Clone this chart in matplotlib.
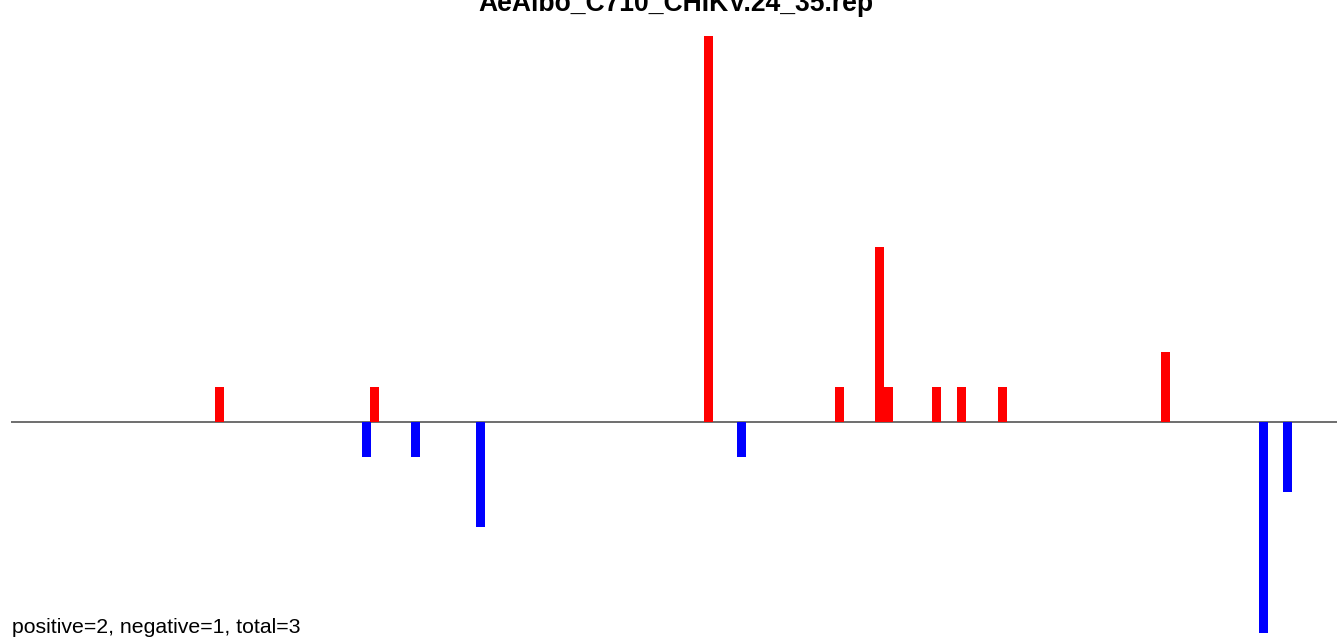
import matplotlib
matplotlib.use("Agg")
import matplotlib.pyplot as plt

title = "AeAlbo_C710_CHIKV.24_35.rep"
note = "positive=2, negative=1, total=3"

# positions and read counts (sense = red, antisense = blue)
pos_x = [27, 46, 87, 103, 108, 109, 115, 118, 123, 143]
pos_y = [1, 1, 11, 1, 5, 1, 1, 1, 1, 2]
neg_x = [45, 51, 59, 91, 155, 158]
neg_y = [-1, -1, -3, -1, -6, -2]

plt.rcParams['font.family'] = ['Liberation Sans', 'DejaVu Sans']

fig = plt.figure(figsize=(13.37, 6.41), dpi=100)
ax = fig.add_axes([0, 0, 1, 1])
ax.axis('off')

ax.hlines(0, 1.43, 170, color='#555555', linewidth=1.2, zorder=1)
ax.bar(pos_x, pos_y, width=1.1, color='#ff0000', zorder=2)
ax.bar(neg_x, neg_y, width=1.1, color='#0000ff', zorder=2)

ax.set_xlim(0.08, 164.07)
ax.set_ylim(-6.24, 12.03)

fig.text(675.5 / 1337, 1 - 11 / 641, title, ha='center', va='baseline',
         fontsize=19.1, fontweight='bold')
fig.text(12 / 1337, 1 - 633 / 641, note, ha='left', va='baseline', fontsize=15.3)

fig.savefig("out.png", dpi=100)
